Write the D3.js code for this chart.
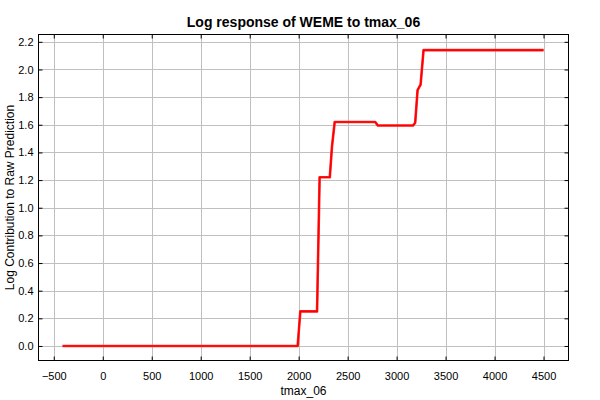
<!DOCTYPE html>
<html><head><meta charset="utf-8">
<script src="https://cdn.jsdelivr.net/npm/d3@7/dist/d3.min.js"></script>
<style>body{margin:0;background:#fff}svg{display:block}</style>
</head><body>
<svg id="c" width="600" height="400"></svg>
<script>
const title = "Log response of WEME to tmax_06";
const xLabel = "tmax_06";
const yLabel = "Log Contribution to Raw Prediction";
const xTicks = [-500, 0, 500, 1000, 1500, 2000, 2500, 3000, 3500, 4000, 4500];
const yTicks = [0.0, 0.2, 0.4, 0.6, 0.8, 1.0, 1.2, 1.4, 1.6, 1.8, 2.0, 2.2];
const xValues = [-410, 1990, 2017, 2188, 2214, 2318, 2340, 2368, 2782, 2808, 3168, 3190, 3214, 3245, 3275, 4500];
const yValues = [0.0, 0.0, 0.25, 0.25, 1.22, 1.22, 1.44, 1.62, 1.62, 1.595, 1.595, 1.615, 1.85, 1.89, 2.14, 2.14];

const svg = d3.select("#c");
const m = {l: 38.5, r: 568.5, t: 34.5, b: 360.5};
const x = d3.scaleLinear().domain([-656, 4755]).range([m.l, m.r]);
const y = d3.scaleLinear().domain([-0.105, 2.253]).range([m.b, m.t]);
const font = "'Liberation Sans', Arial, sans-serif";

// grid
const g = svg.append("g");
g.selectAll("line.vx").data(xTicks).join("line")
  .attr("x1", d => Math.round(x(d)) + 0.5).attr("x2", d => Math.round(x(d)) + 0.5)
  .attr("y1", m.t).attr("y2", m.b).attr("stroke", "#c0c0c0").attr("stroke-width", 1);
g.selectAll("line.hy").data(yTicks).join("line")
  .attr("y1", d => Math.round(y(d)) + 0.5).attr("y2", d => Math.round(y(d)) + 0.5)
  .attr("x1", m.l).attr("x2", m.r).attr("stroke", "#c0c0c0").attr("stroke-width", 1);

// axes with inward ticks
const xb = d3.axisBottom(x).tickValues(xTicks).tickSizeInner(-4).tickSizeOuter(0).tickPadding(12).tickFormat(d3.format("d"));
const xt = d3.axisTop(x).tickValues(xTicks).tickSizeInner(-4).tickSizeOuter(0).tickFormat("");
const yl = d3.axisLeft(y).tickValues(yTicks).tickSizeInner(-4).tickSizeOuter(0).tickPadding(5).tickFormat(d3.format(".1f"));
const yr = d3.axisRight(y).tickValues(yTicks).tickSizeInner(-4).tickSizeOuter(0).tickFormat("");

function style(sel){
  sel.select(".domain").remove();
  sel.selectAll(".tick line").attr("stroke", "#000");
  sel.selectAll(".tick text").attr("fill", "#000").style("font-family", font).style("font-size", "11px");
}
svg.append("g").attr("transform", `translate(0,${m.b})`).call(xb).call(style);
svg.append("g").attr("transform", `translate(0,${m.t})`).call(xt).call(style);
svg.append("g").attr("transform", `translate(${m.l},0)`).call(yl).call(style);
svg.append("g").attr("transform", `translate(${m.r},0)`).call(yr).call(style);

// border
svg.append("rect").attr("x", m.l).attr("y", m.t).attr("width", m.r - m.l).attr("height", m.b - m.t)
  .attr("fill", "none").attr("stroke", "#000").attr("stroke-width", 1);

// line
const pts = xValues.map((v, i) => [v, yValues[i]]);
const line = d3.line().x(d => x(d[0])).y(d => y(d[1]));
svg.append("path").datum(pts).attr("d", line).attr("fill", "none")
  .attr("stroke", "#ff3030").attr("stroke-width", 2.6).attr("stroke-linejoin", "round");
svg.append("path").datum(pts).attr("d", line).attr("fill", "none")
  .attr("stroke", "#ff0000").attr("stroke-width", 1.6).attr("stroke-linejoin", "round");

// texts
svg.append("text").attr("x", (m.l + m.r) / 2).attr("y", 27).attr("text-anchor", "middle")
  .style("font-family", font).style("font-size", "14px").style("font-weight", "bold").text(title);
svg.append("text").attr("x", (m.l + m.r) / 2).attr("y", 395).attr("text-anchor", "middle")
  .style("font-family", font).style("font-size", "12px").text(xLabel);
svg.append("text").attr("transform", `translate(14,${(m.t + m.b) / 2}) rotate(-90)`).attr("text-anchor", "middle")
  .style("font-family", font).style("font-size", "12px").text(yLabel);
</script>
</body></html>
